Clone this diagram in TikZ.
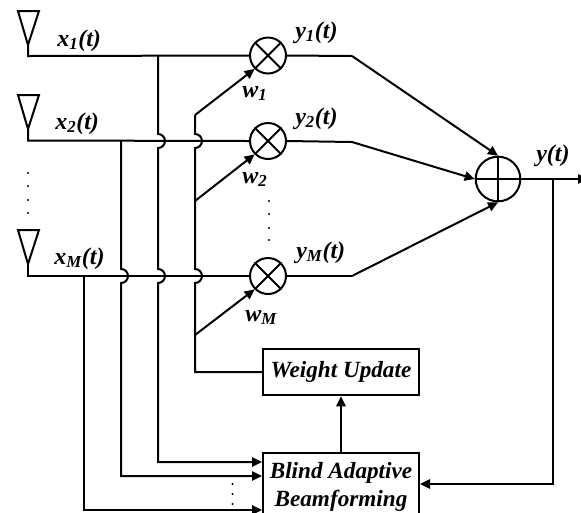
\documentclass[tikz,border=0pt]{standalone}
\usepackage{fontspec}
\setmainfont{Liberation Serif}
\usetikzlibrary{arrows.meta,calc}
\newcommand{\sigtxt}[2]{\textbf{\textit{#1\textsubscript{#2}}}}
\tikzset{
  wire/.style={line width=1.5pt,black},
  arr/.style={wire,-{Triangle[length=7.5pt,width=7pt]}},
  lab/.style={font=\fontsize{18}{20}\selectfont\bfseries\itshape,inner sep=0pt,anchor=base west},
  boxnode/.style={draw,line width=1.5pt,minimum width=117pt,inner sep=0pt,align=center,font=\fontsize{17.4}{21}\selectfont\bfseries\itshape},
  mult/.style={draw,circle,line width=1.5pt,minimum size=27pt,inner sep=0pt},
  dotm/.style={circle,fill=black,inner sep=0pt,minimum size=1.6pt},
  ant/.style={line width=1.5pt,line join=miter}
}
\begin{document}
\begin{tikzpicture}[x=0.75pt,y=-0.75pt]
\useasboundingbox (0,0) rectangle (581,512);
% mixers and summer
\node[mult] (m1) at (268,55.5) {};
\node[mult] (m2) at (268,141) {};
\node[mult] (m3) at (268,276) {};
\node[draw,circle,line width=1.5pt,minimum size=33.5pt,inner sep=0pt] (s) at (498,179) {};
\foreach \m in {m1,m2,m3}{
  \draw[wire] (\m.north west) -- (\m.south east);
  \draw[wire] (\m.north east) -- (\m.south west);
}
\draw[wire] (s.north) -- (s.south);
\draw[wire] (s.west) -- (s.east);
% boxes
\node[boxnode,minimum height=35pt] (wu) at (341,372) {Weight Update};
\node[boxnode,minimum height=50.25pt] (bf) at (341,486.5) {Blind Adaptive\\Beamforming};
% antennas
\coordinate (a1) at (28,45); \coordinate (a2) at (28,129); \coordinate (a3) at (28,264);
\foreach \a in {a1,a2,a3}{
  \draw[ant] ($(\a)+(-10,-34)$) -- ($(\a)+(11,-34)$) -- (\a) -- cycle;
}
% input lines
\coordinate (c1) at (28,56); \coordinate (c2) at (28,140.5); \coordinate (c3) at (28,276);
\draw[wire] (a1) -- (c1) -- (m1.west);
\draw[wire] (a2) -- (c2) -- (m2.west);
\draw[wire] (a3) -- (c3) -- (m3.west);
% vertical lines with hops
\coordinate (v1) at (158,56);
\coordinate (v2) at (121,141);
\coordinate (v3) at (84,276);
\coordinate (t1) at (bf.west |- 0,462);
\coordinate (t2) at (bf.west |- 0,476);
\coordinate (t3) at (bf.west |- 0,510);
\draw[arr] (v1) -- (158,134) arc[start angle=-90,end angle=90,radius=7] -- (158,269) arc[start angle=-90,end angle=90,radius=7] -- (158,462) -- (t1);
\draw[arr] (v2) -- (121,269) arc[start angle=-90,end angle=90,radius=7] -- (121,476) -- (t2);
\draw[arr] (v3) -- (84,510) -- (t3);
% weights
\coordinate (w1) at (195,115);
\coordinate (w2) at (195,201);
\coordinate (w3) at (195,335);
\draw[wire] (w1) -- (195,134) arc[start angle=-90,end angle=90,radius=7] -- (w2) -- (195,269) arc[start angle=-90,end angle=90,radius=7] -- (w3) -- (195,372) -- (wu.west);
\draw[arr] (w1) -- (m1.south west);
\draw[arr] (w2) -- (m2.south west);
\draw[arr] (w3) -- (m3.south west);
% outputs
\coordinate (o1) at (352,56); \coordinate (o2) at (352,142); \coordinate (o3) at (352,276);
\draw[wire] (m1.east) -- (o1);
\draw[wire] (m2.east) -- (o2);
\draw[wire] (m3.east) -- (o3);
\draw[arr] (o1) -- (s.north);
\draw[arr] (o2) -- (s.west);
\draw[arr] (o3) -- (s.south);
% sum output
\coordinate (e) at (588,179);
\coordinate (j) at (553,179);
\draw[arr] (s.east) -- (e);
\draw[arr] (j) -- (553,484) -- (bf.east |- 0,484);
\draw[arr] (bf.north) -- (wu.south);
% labels
\node[lab] (lx1) at (57,46) {\sigtxt{x}{1}(t)};
\node[lab] (lx2) at (55,129) {\sigtxt{x}{2}(t)};
\node[lab] (lx3) at (54,264) {\sigtxt{x}{M}(t)};
\node[lab] (lw1) at (242,97) {\sigtxt{w}{1}};
\node[lab] (lw2) at (242,183) {\sigtxt{w}{2}};
\node[lab] (lw3) at (245,321) {\sigtxt{w}{M}};
\node[lab] (ly1) at (295,38) {\sigtxt{y}{1}(t)};
\node[lab] (ly2) at (295,124) {\sigtxt{y}{2}(t)};
\node[lab] (ly3) at (296,258) {\sigtxt{y}{M}(t)};
\node[lab] (ly) at (536,161) {y(t)};
% dots
\foreach \y [count=\i] in {173,186,200,213}{\node[dotm] (da\i) at (28,\y) {};}
\foreach \y [count=\i] in {201,214,228,240}{\node[dotm] (db\i) at (269,\y) {};}
\foreach \y [count=\i] in {484,494,504}{\node[dotm] (dc\i) at (232.5,\y) {};}
\end{tikzpicture}
\end{document}
